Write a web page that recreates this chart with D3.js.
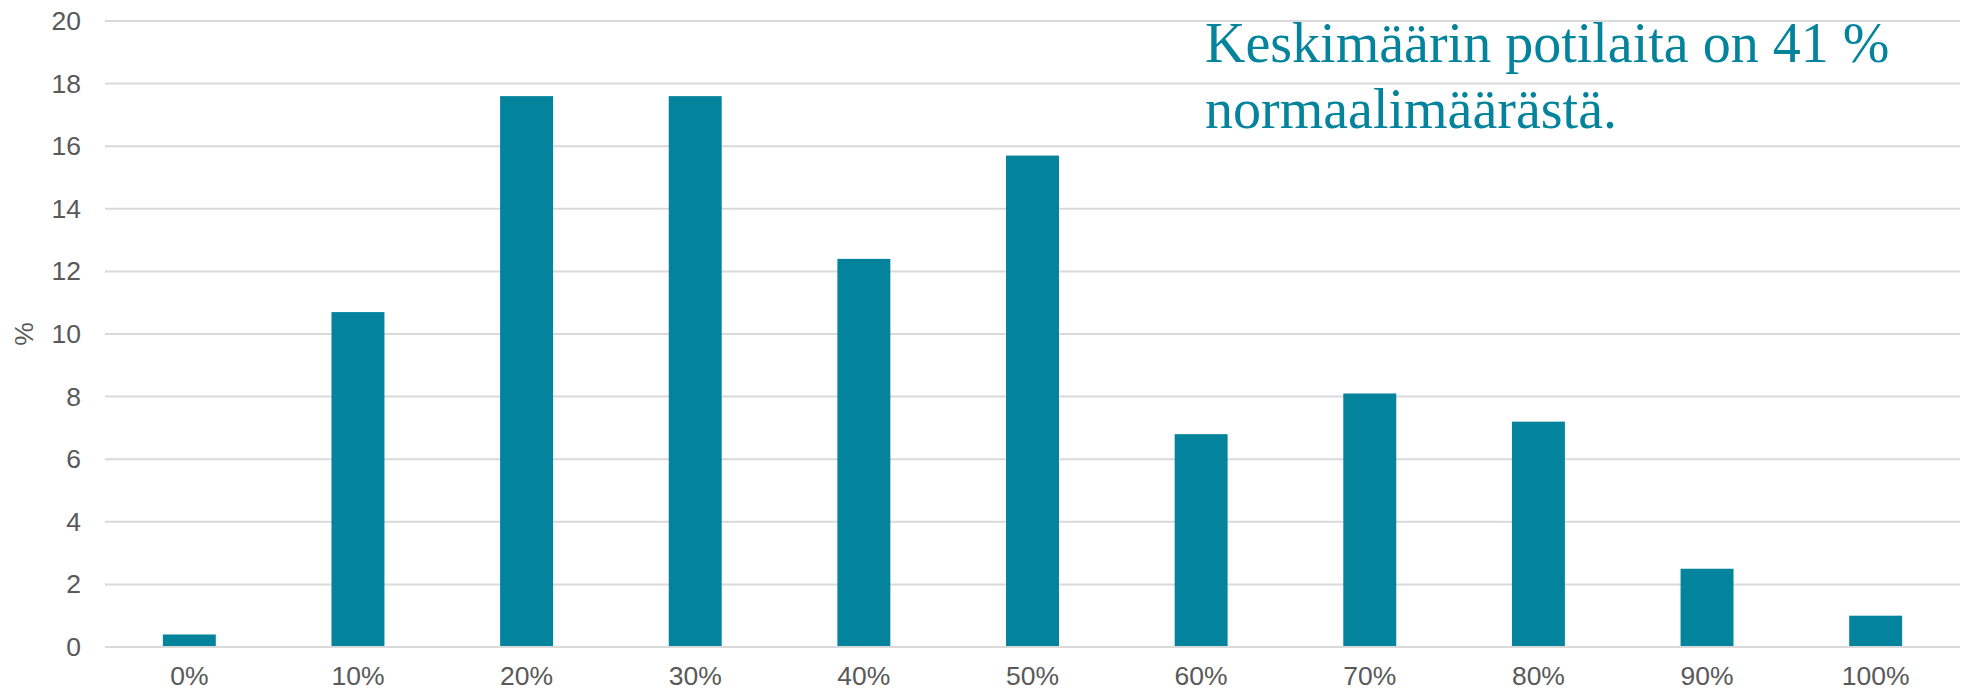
<!DOCTYPE html>
<html>
<head>
<meta charset="utf-8">
<script src="https://cdn.jsdelivr.net/npm/d3@7"></script>
<style>
  body { margin: 0; background: #fff; }
  .axis text { font-family: "Liberation Sans", Arial, sans-serif; fill: #595959; }
</style>
</head>
<body>
<svg id="chart" width="1968" height="693"></svg>
<script>
var categories = ["0%", "10%", "20%", "30%", "40%", "50%", "60%", "70%", "80%", "90%", "100%"];
var values = [0.4, 10.7, 17.6, 17.6, 12.4, 15.7, 6.8, 8.1, 7.2, 2.5, 1.0];
var yTicks = [0, 2, 4, 6, 8, 10, 12, 14, 16, 18, 20];
var yLabel = "%";
var noteLines = ["Keskimäärin potilaita on 41 %", "normaalimäärästä."];

var svg = d3.select("#chart"),
    margin = {top: 21, right: 8, bottom: 46, left: 105},
    width  = +svg.attr("width")  - margin.left - margin.right,
    height = +svg.attr("height") - margin.top  - margin.bottom;

var barColor = "#03849c";

var x = d3.scaleBand().domain(categories).range([0, width]).paddingInner(0.686).paddingOuter(0.343);
var y = d3.scaleLinear().domain([0, 20]).range([height, 0]);

var g = svg.append("g").attr("transform", "translate(" + margin.left + "," + margin.top + ")");

// gridlines
g.append("g")
  .selectAll("line")
  .data(yTicks)
  .enter().append("line")
    .attr("x1", 0).attr("x2", width)
    .attr("y1", function(d) { return y(d); })
    .attr("y2", function(d) { return y(d); })
    .attr("stroke", "#d9d9d9")
    .attr("stroke-width", 2);

var yAxis = d3.axisLeft(y).tickValues(yTicks).tickSize(0).tickPadding(24);
g.append("g").attr("class", "axis")
  .call(yAxis)
  .call(function(s) { s.select(".domain").remove(); })
  .selectAll("text").attr("font-size", 26.5);

// bars
g.selectAll(".bar")
  .data(values)
  .enter().append("rect")
    .attr("class", "bar")
    .attr("x", function(d, i) { return x(categories[i]); })
    .attr("width", x.bandwidth())
    .attr("y", function(d) { return y(d); })
    .attr("height", function(d) { return height - y(d); })
    .attr("fill", barColor);

// baseline
g.append("line")
  .attr("x1", 0).attr("x2", width)
  .attr("y1", y(0)).attr("y2", y(0))
  .attr("stroke", "#d9d9d9").attr("stroke-width", 2);

var xAxis = d3.axisBottom(x).tickSize(0).tickPadding(19);
g.append("g").attr("class", "axis")
  .attr("transform", "translate(0," + height + ")")
  .call(xAxis)
  .call(function(s) { s.select(".domain").remove(); })
  .selectAll("text").attr("font-size", 26.5);

// y title
svg.append("text")
  .attr("transform", "translate(33," + (margin.top + height / 2) + ") rotate(-90)")
  .attr("text-anchor", "middle")
  .attr("font-family", "Liberation Sans, Arial, sans-serif")
  .attr("font-size", 26.5)
  .attr("fill", "#595959")
  .text(yLabel);

// annotation
var note = svg.append("text")
  .attr("font-family", "Liberation Serif, Times New Roman, serif")
  .attr("font-size", 56)
  .attr("fill", barColor);
note.selectAll("tspan")
  .data(noteLines)
  .enter().append("tspan")
    .attr("x", 1205)
    .attr("y", function(d, i) { return 62 + i * 66; })
    .text(function(d) { return d; });
</script>
</body>
</html>
